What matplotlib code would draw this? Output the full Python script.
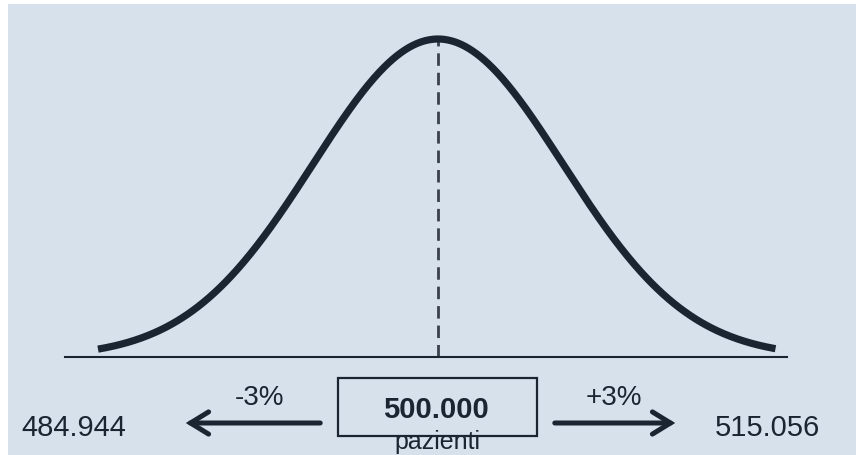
import numpy as np
import matplotlib
matplotlib.use("Agg")
import matplotlib.pyplot as plt
from matplotlib.patches import Rectangle, FancyArrowPatch

plt.rcParams['font.family'] = ['Liberation Sans', 'DejaVu Sans']

# Values shown under the bell curve
patients = 500000
pct_change = 3
low_patients = 484944
high_patients = 515056
unit_label = "pazienti"

# Curve range, in standard deviations around the mean
z_left, z_right = -2.72, 2.70

W, H = 856, 456
bg = '#d6e1ec'
ink = '#1b2531'


def fmt(v):
    return f"{v:,}".replace(",", ".")


def fx(x):
    return x / W


def fy(y):
    return 1 - y / H


fig = plt.figure(figsize=(W / 100, H / 100), dpi=100, facecolor='white')

# light panel behind everything, with a thin white margin on top / left
fig.patches.append(Rectangle((fx(8), 0), 1 - fx(8), fy(5), transform=fig.transFigure,
                             facecolor=bg, edgecolor='none', zorder=-5))

# axes for the bell curve: baseline at y=358px, peak at y=40px, mean at x=438px
x_lo, x_hi, x_mid, sigma_px = 65, 787, 438, 125
ax = fig.add_axes([fx(x_lo), fy(358), (x_hi - x_lo) / W, (358 - 40) / H])
ax.set_zorder(1)
ax.set_facecolor('none')
ax.set_xlim(-(x_mid - x_lo) / sigma_px, (x_hi - x_mid) / sigma_px)
ax.set_ylim(0, 1)

z = np.linspace(z_left, z_right, 500)
density = np.exp(-z ** 2 / 2)
ax.plot(z, density, color=ink, lw=5.2, solid_capstyle='butt', clip_on=False, zorder=3)
ax.plot([0, 0], [0, 1], color='#3a414a', lw=2, linestyle=(0, (4.5, 2.5)),
        clip_on=False, zorder=2)

for side in ['top', 'left', 'right']:
    ax.spines[side].set_visible(False)
ax.spines['bottom'].set_color(ink)
ax.spines['bottom'].set_linewidth(1.5)
ax.set_xticks([])
ax.set_yticks([])

# labels under the curve
fig.text(fx(73.5), fy(436), fmt(low_patients), ha='center', va='baseline',
         fontsize=21, color=ink)
fig.text(fx(767.5), fy(436), fmt(high_patients), ha='center', va='baseline',
         fontsize=21, color=ink)
fig.text(fx(259.5), fy(405), f"-{pct_change}%", ha='center', va='baseline',
         fontsize=20, color=ink)
fig.text(fx(614), fy(405), f"+{pct_change}%", ha='center', va='baseline',
         fontsize=20, color=ink)
fig.text(fx(436), fy(418), fmt(patients), ha='center', va='baseline',
         fontsize=21, fontweight='bold', color=ink)
fig.text(fx(437), fy(449), unit_label, ha='center', va='baseline',
         fontsize=18, color=ink)

fig.patches.append(Rectangle((fx(338), fy(437)), (537 - 338) / W, (437 - 379) / H,
                             transform=fig.transFigure, facecolor='none',
                             edgecolor=ink, lw=1.6, zorder=2))

# arrows to the lower / upper values
for tail, tip in [(323, 183), (552, 678)]:
    arr = FancyArrowPatch((fx(tail), fy(424)), (fx(tip), fy(424)),
                          transform=fig.transFigure,
                          arrowstyle='->,head_length=13,head_width=8',
                          mutation_scale=1, lw=3.6, color=ink,
                          capstyle='round', joinstyle='miter', zorder=3)
    fig.patches.append(arr)

fig.savefig('out.png', dpi=100, facecolor='white')
